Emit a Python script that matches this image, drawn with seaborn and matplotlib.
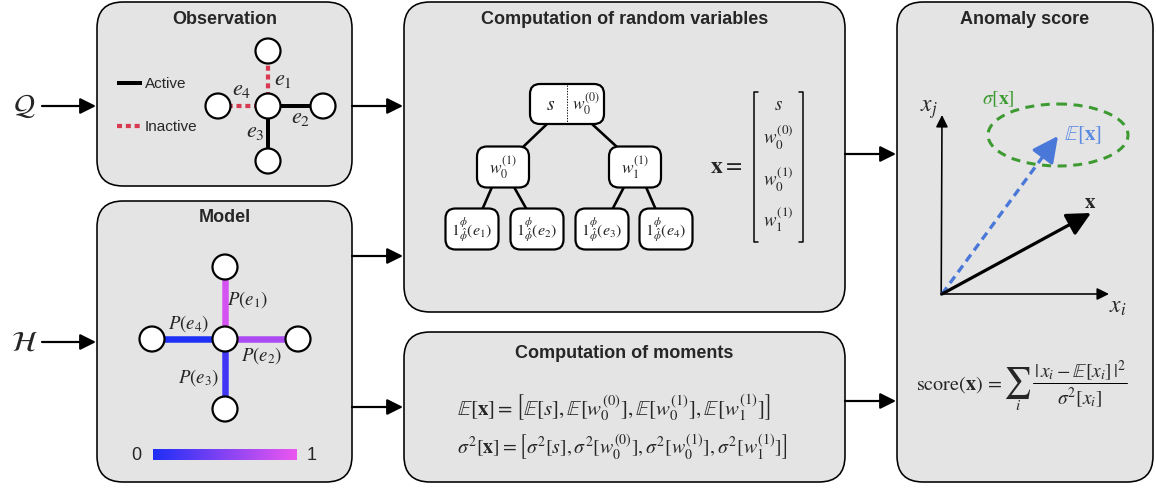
import matplotlib
matplotlib.use("Agg")
import matplotlib.pyplot as plt
import numpy as np
import seaborn as sns
from matplotlib.patches import FancyBboxPatch, Circle, Ellipse

# ---------------------------------------------------------------------------
# Diagram content
# ---------------------------------------------------------------------------
panel_titles = ["Observation", "Model", "Computation of random variables",
                "Computation of moments", "Anomaly score"]
inputs = [r"$\mathcal{Q}$", r"$\mathcal{H}$"]

edge_names = ["e_1", "e_2", "e_3", "e_4"]
edge_active = [False, True, True, False]          # observation state
edge_probs = [0.88, 0.68, 0.17, 0.0]              # model P(e_k)

tree_levels = [
    [r"$w_0^{(1)}$", r"$w_1^{(1)}$"],
    [r"$1^{\phi}_{\hat{\phi}}(e_1)$", r"$1^{\phi}_{\hat{\phi}}(e_2)$",
     r"$1^{\phi}_{\hat{\phi}}(e_3)$", r"$1^{\phi}_{\hat{\phi}}(e_4)$"],
]
root_labels = [r"$s$", r"$w_0^{(0)}$"]
vector_entries = [r"$s$", r"$w_0^{(0)}$", r"$w_0^{(1)}$", r"$w_1^{(1)}$"]

mean_eq = (r"$\mathbb{E}[\mathbf{x}] = \left[\mathbb{E}[s], \mathbb{E}[w_0^{(0)}], "
           r"\mathbb{E}[w_0^{(1)}], \mathbb{E}[w_1^{(1)}]\right]$")
var_eq = (r"$\sigma^2[\mathbf{x}] = \left[\sigma^2[s], \sigma^2[w_0^{(0)}], "
          r"\sigma^2[w_0^{(1)}], \sigma^2[w_1^{(1)}]\right]$")
score_lhs = r"$\mathrm{score}(\mathbf{x})\, =$"
score_num = r"$|\,x_i - \mathbb{E}[x_i]\,|^2$"
score_den = r"$\sigma^2[x_i]$"

# ---------------------------------------------------------------------------
# Style
# ---------------------------------------------------------------------------
sns.set_theme(style="white")
plt.rcParams["font.family"] = ["Liberation Sans", "DejaVu Sans"]
plt.rcParams["mathtext.fontset"] = "stix"

PANEL_BG = "#E4E4E4"
RED = "#D93A52"
GREEN = "#3D9A31"
BLUE = "#4A78D8"
prob_cmap = sns.blend_palette(["#1E2FF6", "#EC57F0"], as_cmap=True)

W, H = 1156, 489
fig = plt.figure(figsize=(W / 100, H / 100), dpi=100)
ax = fig.add_axes([0, 0, 1, 1])
ax.set_xlim(0, W)
ax.set_ylim(H, 0)
ax.axis("off")

PX = 0.72  # pixel -> point


def panel(x0, y0, x1, y1, title, ty=None):
    box = FancyBboxPatch((x0, y0), x1 - x0, y1 - y0,
                         boxstyle="round,pad=0,rounding_size=26",
                         fc=PANEL_BG, ec="black", lw=1.6 * PX, zorder=0)
    ax.add_patch(box)
    ax.text((x0 + x1) / 2, y0 + 17 if ty is None else ty, title,
            ha="center", va="center", fontsize=13, fontweight="bold")


def arrow(x0, y0, x1, y1, lw=2.2, ms=16, color="black", zorder=3):
    ax.annotate("", xy=(x1, y1), xytext=(x0, y0),
                arrowprops=dict(arrowstyle="-|>,head_length=0.6,head_width=0.3",
                                lw=lw * PX, color=color, mutation_scale=ms,
                                shrinkA=0, shrinkB=0), zorder=zorder)


def node(x, y, r=12.5):
    ax.add_patch(Circle((x, y), r, fc="white", ec="black", lw=2.2 * PX, zorder=5))


def rbox(cx, cy, w, h, label=None, fs=12):
    ax.add_patch(FancyBboxPatch((cx - w / 2, cy - h / 2), w, h,
                                boxstyle="round,pad=0,rounding_size=10",
                                fc="white", ec="black", lw=2.2 * PX, zorder=4))
    if label is not None:
        ax.text(cx, cy, label, ha="center", va="center", fontsize=fs, zorder=6)


# panels
panel(97, 3, 352, 187, panel_titles[0])
panel(97, 202, 352, 483, panel_titles[1], ty=217)
panel(404, 3, 845, 313, panel_titles[2])
panel(404, 333, 845, 483, panel_titles[3], ty=354)
panel(897, 3, 1153, 483, panel_titles[4])

# input arrows
ax.text(24, 106, inputs[0], ha="center", va="center", fontsize=21)
ax.text(24, 343, inputs[1], ha="center", va="center", fontsize=21)
arrow(42, 107, 96, 107)
arrow(42, 343, 96, 343)
# links between panels
arrow(352, 107, 403, 107)
arrow(352, 257, 403, 257)
arrow(352, 408, 403, 408)
arrow(845, 155, 896, 155)
arrow(845, 402, 896, 402)

# ---------------------------------------------------------------------------
# Observation graph
# ---------------------------------------------------------------------------
oc = (268, 107)
obs_leaves = [(268, 52), (323, 107), (268, 162), (218, 107)]
obs_label_pos = [(283, 80), (301, 117), (255, 131), (242, 89)]
for (lx, ly), act, name, (tx, ty) in zip(obs_leaves, edge_active, edge_names, obs_label_pos):
    if act:
        ax.plot([oc[0], lx], [oc[1], ly], color="black", lw=4 * PX,
                solid_capstyle="butt", zorder=2)
    else:
        ax.plot([oc[0], lx], [oc[1], ly], color=RED, lw=4.2 * PX,
                ls=(0, (1.2, 0.9)), dash_capstyle="butt", zorder=2)
    ax.text(tx, ty, f"${name}$", ha="center", va="center", fontsize=16)
    node(lx, ly)
node(*oc)

ax.plot([117, 142], [84, 84], color="black", lw=4 * PX, solid_capstyle="butt")
ax.text(145, 84, "Active", ha="left", va="center", fontsize=11)
ax.plot([117, 142], [127, 127], color=RED, lw=4.2 * PX, ls=(0, (1.2, 0.9)),
        dash_capstyle="butt")
ax.text(145, 127, "Inactive", ha="left", va="center", fontsize=11)

# ---------------------------------------------------------------------------
# Model graph
# ---------------------------------------------------------------------------
mc = (225, 340)
mod_leaves = [(225, 268), (298, 340), (225, 410), (152, 340)]
mod_label_pos = [(247, 300), (261, 356), (198, 378), (188, 324)]
for (lx, ly), p, name, (tx, ty) in zip(mod_leaves, edge_probs, edge_names, mod_label_pos):
    ax.plot([mc[0], lx], [mc[1], ly], color=prob_cmap(p), lw=6.5 * PX,
            solid_capstyle="butt", zorder=2)
    ax.text(tx, ty, f"$P({name})$", ha="center", va="center", fontsize=13.5)
    node(lx, ly)
node(*mc)

grad = np.linspace(0, 1, 256).reshape(1, -1)
ax.imshow(grad, cmap=prob_cmap, extent=(153, 297, 461, 450), aspect="auto", zorder=2)
ax.text(136, 455, "0", ha="center", va="center", fontsize=13)
ax.text(312, 455, "1", ha="center", va="center", fontsize=13)

# ---------------------------------------------------------------------------
# Tree of random variables
# ---------------------------------------------------------------------------
root = (567, 105)
lvl1_x = [503, 635]
lvl2_x = [472, 537, 602, 666]
y1, y2 = 168, 230
# edges
for x in lvl1_x:
    sx = root[0] - 20 if x < root[0] else root[0] + 25
    ax.plot([sx, x + (20 if x < root[0] else -18)], [125, 148], color="black",
            lw=2.6 * PX, zorder=3)
for i, x in enumerate(lvl2_x):
    px = lvl1_x[i // 2]
    off = -11 if i % 2 == 0 else 11
    ax.plot([px + off, x + (10 if i % 2 == 0 else -10)], [188, 211], color="black",
            lw=2.6 * PX, zorder=3)

rbox(root[0], root[1], 74, 40)
ax.plot([567, 567], [86, 124], color="black", lw=0.9 * PX, ls=(0, (1.5, 1.5)), zorder=6)
ax.text(551, 106, root_labels[0], ha="center", va="center", fontsize=14, zorder=6)
ax.text(586, 104, root_labels[1], ha="center", va="center", fontsize=12.5, zorder=6)
for x, lab in zip(lvl1_x, tree_levels[0]):
    rbox(x, y1, 52, 41, lab, fs=12.5)
for x, lab in zip(lvl2_x, tree_levels[1]):
    rbox(x, y2, 53, 41, lab, fs=11.5)

# vector x
ax.text(726, 167, r"$\mathbf{x} =$", ha="center", va="center", fontsize=17)
for bx, d in [(754, 1), (803, -1)]:
    ax.plot([bx + 4 * d, bx, bx, bx + 4 * d], [93, 93, 243, 243], color="black",
            lw=1.5 * PX)
vec_y = [106, 138, 180, 220]
for yy, lab in zip(vec_y, vector_entries):
    ax.text(778, yy, lab, ha="center", va="center", fontsize=13.5)

# moments
ax.text(614, 408, mean_eq, ha="center", va="center", fontsize=15)
ax.text(622, 447, var_eq, ha="center", va="center", fontsize=14.3)

# ---------------------------------------------------------------------------
# Anomaly score sketch
# ---------------------------------------------------------------------------
org = (942, 295)
arrow(org[0] - 0.8, org[1] + 0.8, 942, 116, lw=1.6, ms=12)
arrow(org[0] - 0.8, org[1], 1109, 295, lw=1.6, ms=12)
ax.text(929, 110, r"$x_j$", ha="center", va="center", fontsize=17)
ax.text(1118, 307, r"$x_i$", ha="center", va="center", fontsize=17)

ax.add_patch(Ellipse((1058, 136), 140, 62, fill=False, ec=GREEN, lw=3 * PX,
                     ls=(0, (3, 2.2)), zorder=3))
ax.text(998, 99, r"$\sigma[\mathbf{x}]$", ha="center", va="center",
        fontsize=14, color=GREEN)

tip = np.array([1058.0, 137.0])
u = (tip - np.array(org)) / np.linalg.norm(tip - np.array(org))
base = tip - 15 * u
ax.plot([org[0], base[0]], [org[1], base[1]], color=BLUE, lw=3.3 * PX,
        ls=(0, (2.5, 1.6)), zorder=3)
arrow(base[0] - 2 * u[0], base[1] - 2 * u[1], tip[0], tip[1], lw=3.3, ms=26,
      color=BLUE, zorder=4)
ax.text(1083, 135, r"$\mathbb{E}[\mathbf{x}]$", ha="center", va="center",
        fontsize=15, color="#5B8AE3")

arrow(org[0], org[1], 1091, 214, lw=3.2, ms=24)
ax.text(1090, 202, r"$\mathbf{x}$", ha="center", va="center", fontsize=15)

# score formula, assembled piece by piece so the sum and fraction stay full size
ax.text(1002, 385, score_lhs, ha="right", va="center", fontsize=14.5)
ax.text(1017, 383, r"$\sum$", ha="center", va="center", fontsize=22)
ax.text(1018, 406, r"$i$", ha="center", va="center", fontsize=11)
ax.text(1080, 371, score_num, ha="center", va="center", fontsize=14)
ax.plot([1033, 1127], [384, 384], color="black", lw=1.0 * PX)
ax.text(1080, 398, score_den, ha="center", va="center", fontsize=14)

fig.savefig("out.png", dpi=100)
